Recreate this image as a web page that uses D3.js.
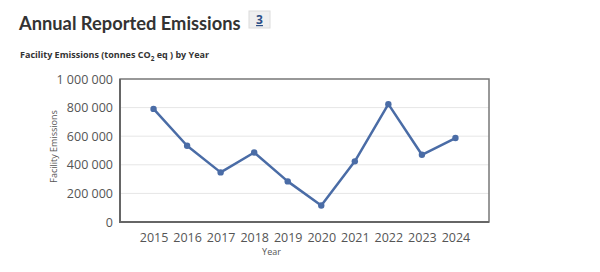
<!DOCTYPE html>
<html>
<head>
<meta charset="utf-8">
<script src="https://cdn.jsdelivr.net/npm/d3@7"></script>
<style>
  body { margin: 0; background: #fff; }
</style>
</head>
<body>
<div id="chart"></div>
<script>
var years = ["2015", "2016", "2017", "2018", "2019", "2020", "2021", "2022", "2023", "2024"];
var emissions = [791000, 533000, 347000, 486000, 284000, 115000, 424000, 824000, 470000, 587000];
var yTicks = [0, 200000, 400000, 600000, 800000, 1000000];

var svgWidth = 600;
var svgHeight = 272;
var margin = { top: 79, right: 111, bottom: 50, left: 120 };
var width = svgWidth - margin.left - margin.right;
var height = svgHeight - margin.top - margin.bottom;

var svg = d3.select("#chart")
  .append("svg")
  .attr("width", svgWidth)
  .attr("height", svgHeight)
  .style("font-family", "'Open Sans', sans-serif");

// title + badge
svg.append("text")
  .attr("x", 19)
  .attr("y", 30)
  .attr("font-family", "Lato, sans-serif")
  .attr("font-weight", "bold")
  .attr("font-size", 18.3)
  .attr("fill", "#333")
  .text("Annual Reported Emissions");

svg.append("rect")
  .attr("x", 249)
  .attr("y", 11)
  .attr("width", 21)
  .attr("height", 17)
  .attr("fill", "#efefef")
  .attr("stroke", "#dcdcdc");

svg.append("text")
  .attr("x", 259.5)
  .attr("y", 24)
  .attr("text-anchor", "middle")
  .attr("font-weight", "bold")
  .attr("font-size", 12)
  .attr("fill", "#2d4f86")
  .attr("text-decoration", "underline")
  .text("3");

var sub = svg.append("text")
  .attr("x", 20)
  .attr("y", 58)
  .attr("font-weight", "bold")
  .attr("font-size", 9)
  .attr("fill", "#333");
sub.append("tspan").text("Facility Emissions (tonnes CO");
sub.append("tspan").attr("font-size", 6.5).attr("dy", 2.5).text("2");
sub.append("tspan").attr("dy", -2.5).text(" eq ) by Year");

var chartGroup = svg.append("g")
  .attr("transform", `translate(${margin.left}, ${margin.top})`);

var xScale = d3.scalePoint()
  .domain(years)
  .range([0, width])
  .padding(1);

var yScale = d3.scaleLinear()
  .domain([0, 1000000])
  .range([height, 0]);

var fmt = function(d) {
  return d3.format(",")(d).replace(/,/g, " ");
};

// gridlines
chartGroup.selectAll(".grid")
  .data(yTicks.slice(1, -1))
  .enter()
  .append("line")
  .attr("x1", 0)
  .attr("x2", width)
  .attr("y1", d => yScale(d))
  .attr("y2", d => yScale(d))
  .attr("stroke", "#e6e6e6")
  .attr("stroke-width", 1);

// frame
chartGroup.append("rect")
  .attr("x", 0)
  .attr("y", 0)
  .attr("width", width)
  .attr("height", height)
  .attr("fill", "none")
  .attr("stroke", "#777")
  .attr("stroke-width", 1.5);

chartGroup.append("path")
  .attr("d", `M0,0V${height}H${width}`)
  .attr("fill", "none")
  .attr("stroke", "#666")
  .attr("stroke-width", 2);

var leftAxis = d3.axisLeft(yScale)
  .tickValues(yTicks)
  .tickFormat(fmt)
  .tickSize(0)
  .tickPadding(7);

var yAxis = chartGroup.append("g").call(leftAxis);
yAxis.select(".domain").remove();
yAxis.selectAll("text")
  .attr("font-family", "'Open Sans', sans-serif")
  .attr("font-size", 12.5)
  .attr("fill", "#555");

var bottomAxis = d3.axisBottom(xScale)
  .tickSize(0)
  .tickPadding(11);

var xAxis = chartGroup.append("g")
  .attr("transform", `translate(0, ${height})`)
  .call(bottomAxis);
xAxis.select(".domain").remove();
xAxis.selectAll("text")
  .attr("font-family", "'Open Sans', sans-serif")
  .attr("font-size", 12.5)
  .attr("fill", "#555");

// line
var line = d3.line()
  .x((d, i) => xScale(years[i]))
  .y(d => yScale(d));

chartGroup.append("path")
  .datum(emissions)
  .attr("d", line)
  .attr("fill", "none")
  .attr("stroke", "#4a6ca6")
  .attr("stroke-width", 2.5)
  .attr("stroke-linejoin", "round");

chartGroup.selectAll(".dot")
  .data(emissions)
  .enter()
  .append("circle")
  .attr("cx", (d, i) => xScale(years[i]))
  .attr("cy", d => yScale(d))
  .attr("r", 3.2)
  .attr("fill", "#4a6ca6");

// axis titles
chartGroup.append("text")
  .attr("transform", "rotate(-90)")
  .attr("x", 0 - height / 2 + 4)
  .attr("y", -63)
  .attr("text-anchor", "middle")
  .attr("font-size", 9)
  .attr("fill", "#555")
  .text("Facility Emissions");

chartGroup.append("text")
  .attr("x", xScale("2019") + (xScale("2020") - xScale("2019")) / 2 - 33)
  .attr("y", height + 33)
  .attr("text-anchor", "middle")
  .attr("font-size", 9)
  .attr("fill", "#555")
  .text("Year");
</script>
</body>
</html>
